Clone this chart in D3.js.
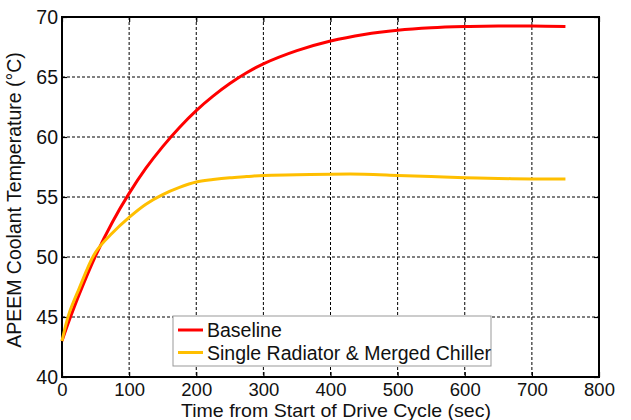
<!DOCTYPE html>
<html>
<head>
<meta charset="utf-8">
<script src="https://cdn.jsdelivr.net/npm/d3@7"></script>
<style>
  html, body { margin: 0; padding: 0; background: #fff; }
  svg text { font-family: "Liberation Sans", Arial, Helvetica, sans-serif; fill: #111; }
</style>
</head>
<body>
<svg id="chart" width="631" height="420"></svg>
<script>
// Coolant temperature over the drive cycle for two cooling layouts
const timeSec = [0, 10, 25, 50, 75, 100, 125, 150, 175, 200, 225, 250, 275, 300, 350, 400, 450, 500, 550, 600, 650, 700, 750];
const baselineTemp = [43.0, 44.6, 46.8, 50.1, 52.9, 55.3, 57.4, 59.2, 60.8, 62.2, 63.4, 64.45, 65.35, 66.1, 67.2, 68.0, 68.55, 68.9, 69.1, 69.2, 69.25, 69.25, 69.2];
const mergedTemp = [43.0, 45.2, 47.3, 50.4, 52.0, 53.3, 54.4, 55.2, 55.8, 56.25, 56.45, 56.6, 56.7, 56.8, 56.85, 56.9, 56.9, 56.8, 56.7, 56.6, 56.55, 56.5, 56.5];
const seriesNames = ["Baseline", "Single Radiator & Merged Chiller"];
const seriesColors = ["#ff0000", "#ffbf00"];
const xTicks = [0, 100, 200, 300, 400, 500, 600, 700, 800];
const yTicks = [40, 45, 50, 55, 60, 65, 70];

const svg = d3.select("#chart");
const plotL = 62, plotT = 17, plotR = 599, plotB = 377;

const x = d3.scaleLinear().domain([0, 800]).range([plotL, plotR]);
const y = d3.scaleLinear().domain([40, 70]).range([plotB, plotT]);

// dashed grid
const grid = svg.append("g");
grid.selectAll("line.gx").data(xTicks.slice(1, -1)).join("line")
  .attr("x1", d => x(d)).attr("x2", d => x(d))
  .attr("y1", plotT).attr("y2", plotB)
  .attr("stroke", "#000").attr("stroke-width", 1).attr("stroke-dasharray", "3,2");
grid.selectAll("line.gy").data(yTicks.slice(1, -1)).join("line")
  .attr("y1", d => y(d)).attr("y2", d => y(d))
  .attr("x1", plotL).attr("x2", plotR)
  .attr("stroke", "#000").attr("stroke-width", 1).attr("stroke-dasharray", "3,2");

// axes with inward ticks on all four sides
const fontSize = 19.5;
const axB = svg.append("g").attr("transform", `translate(0,${plotB})`)
  .call(d3.axisBottom(x).tickValues(xTicks).tickSize(-5).tickSizeOuter(0));
const axT = svg.append("g").attr("transform", `translate(0,${plotT})`)
  .call(d3.axisTop(x).tickValues(xTicks).tickSize(-5).tickFormat("").tickSizeOuter(0));
const axL = svg.append("g").attr("transform", `translate(${plotL},0)`)
  .call(d3.axisLeft(y).tickValues(yTicks).tickSize(-5).tickSizeOuter(0));
const axR = svg.append("g").attr("transform", `translate(${plotR},0)`)
  .call(d3.axisRight(y).tickValues(yTicks).tickSize(-5).tickFormat("").tickSizeOuter(0));
[axB, axT, axL, axR].forEach(a => {
  a.select(".domain").remove();
  a.selectAll(".tick line").attr("stroke", "#000").attr("stroke-width", 1.2);
  a.selectAll("text").attr("font-size", fontSize).attr("fill", "#111");
});
axB.selectAll("text").attr("font-size", 18.5).attr("dy", 0).attr("y", 18.5);
axL.selectAll("text").attr("x", -4);

// frame
svg.append("rect").attr("x", plotL).attr("y", plotT)
  .attr("width", plotR - plotL).attr("height", plotB - plotT)
  .attr("fill", "none").attr("stroke", "#000").attr("stroke-width", 2);

// series lines
const line = d3.line().x(d => x(d[0])).y(d => y(d[1])).curve(d3.curveCatmullRom.alpha(0.5));
const series = [baselineTemp, mergedTemp];
series.forEach((vals, i) => {
  svg.append("path")
    .datum(timeSec.map((t, k) => [t, vals[k]]))
    .attr("d", line)
    .attr("fill", "none")
    .attr("stroke", seriesColors[i])
    .attr("stroke-width", 3)
    .attr("stroke-linejoin", "round")
    .attr("stroke-linecap", "butt");
});

// axis titles
svg.append("text").attr("x", 336).attr("y", 416.5)
  .attr("text-anchor", "middle").attr("font-size", 18.5)
  .attr("textLength", 310).attr("lengthAdjust", "spacingAndGlyphs")
  .text("Time from Start of Drive Cycle (sec)");
svg.append("text")
  .attr("transform", `translate(21,200) rotate(-90)`)
  .attr("text-anchor", "middle").attr("font-size", fontSize)
  .text("APEEM Coolant Temperature (°C)");

// legend
const lg = svg.append("g");
lg.append("rect").attr("x", 173).attr("y", 316).attr("width", 318).attr("height", 50)
  .attr("fill", "#fff").attr("stroke", "#999").attr("stroke-width", 1);
seriesNames.forEach((name, i) => {
  const cy = 330 + i * 22.5;
  lg.append("line").attr("x1", 178).attr("x2", 203).attr("y1", cy).attr("y2", cy)
    .attr("stroke", seriesColors[i]).attr("stroke-width", 3);
  lg.append("text").attr("x", 207).attr("y", cy).attr("dy", "0.36em")
    .attr("font-size", fontSize).text(name);
});
</script>
</body>
</html>
